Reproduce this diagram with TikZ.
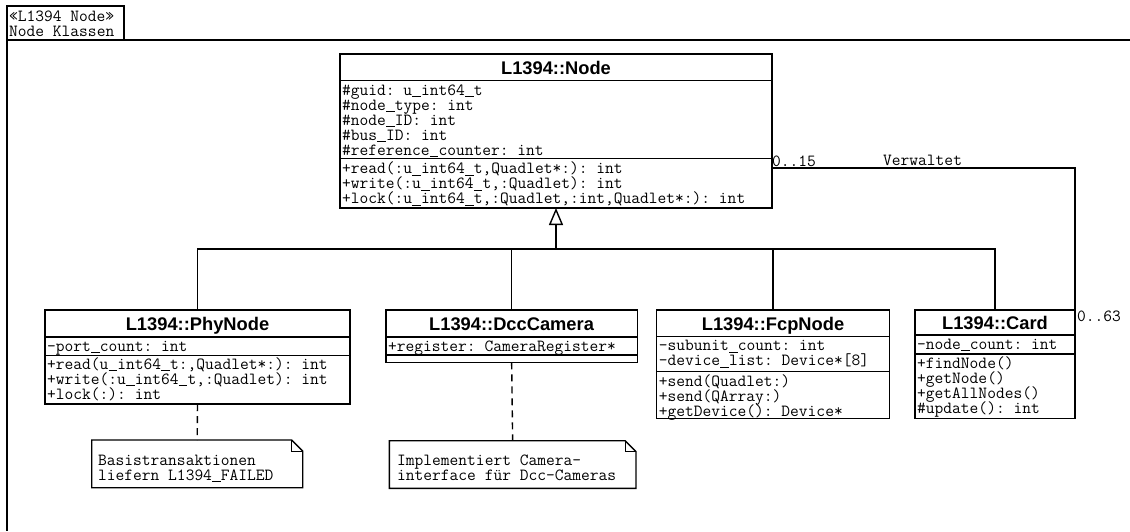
\documentclass[tikz,border=0pt]{standalone}
\usepackage{fontspec}
\setmainfont{Liberation Sans}
\usetikzlibrary{arrows.meta}

% thin underscore that stays clear of the next line
\newcommand\us{\makebox[0.525em][c]{\rule[-2pt]{0.5em}{0.7pt}}}

% one text line per node, 15pt apart: #1 name prefix, #2 x, #3 y of first line, #4 lines
\newcommand\compartmentlines[4]{%
  \foreach \t [count=\i] in {#4}
    \node[mono] (#1\i) at (#2,{#3+15*(\i-1)}) {\t};}

% horizontal compartment separator across a class box
\newcommand\compsep[2]{\draw[stroke] (#1.west |- 0,#2) -- (#1.east |- 0,#2);}

% dog-eared outline of a comment node
\newcommand\notesheet[1]{%
  \draw[stroke] (#1.north west) -- ([xshift=-11pt]#1.north east)
    -- ([yshift=-11pt]#1.north east) -- (#1.south east) -- (#1.south west) -- cycle;
  \draw[line width=0.8pt] ([xshift=-11pt]#1.north east) |- ([yshift=-11pt]#1.north east);}

\begin{document}
\frenchspacing
\begin{tikzpicture}[x=1pt,y=-1pt,
  stroke/.style={line width=1.4pt, black},
  classbox/.style={draw, line width=1.4pt, anchor=north west, inner sep=0pt, outer sep=0pt},
  notebox/.style={anchor=north west, inner sep=0pt, outer sep=0pt},
  mono/.style={font=\fontsize{17}{15}\selectfont\ttfamily, inner sep=0pt, anchor=west,
    text height=10pt, text depth=0pt},
  classtitle/.style={font=\fontsize{18.3}{20}\selectfont\bfseries, inner sep=0pt,
    text height=13.1pt, text depth=0pt},
  generalization/.style={stroke, -{Triangle[open, length=17pt, width=14pt, line width=1.4pt]}},
  notelink/.style={stroke, dash pattern=on 7pt off 5pt}]

\useasboundingbox[fill=white] (0,0) rectangle (1130,531);

% package frame with its tab
\draw[stroke] (124,40) -- (124,6) -- (7,6) -- (7,531);
\draw[stroke] (7,40) -- (1130,40);
\node[mono] (tab1) at (9,16) {«L1394 Node»};
\node[mono] (tab2) at (9,31) {Node Klassen};

% L1394::Node
\node[classbox, minimum width=432pt, minimum height=154pt] (node) at (340,54) {};
\node[classtitle] (node-title) at (556,67.5) {L1394::Node};
\compsep{node}{80.7}
\compsep{node}{158.3}
\compartmentlines{node-a}{342}{90}{{\#guid: u\us int64\us t},{\#node\us type: int},{\#node\us ID: int},
  {\#bus\us ID: int},{\#reference\us counter: int}}
\compartmentlines{node-m}{342}{168.3}{{+read(:u\us int64\us t,Quadlet*:): int},
  {+write(:u\us int64\us t,:Quadlet): int},{+lock(:u\us int64\us t,:Quadlet,:int,Quadlet*:): int}}

% L1394::PhyNode
\node[classbox, minimum width=305pt, minimum height=94pt] (phy) at (45,310) {};
\node[classtitle] (phy-title) at (197.5,323.5) {L1394::PhyNode};
\compsep{phy}{337}
\compsep{phy}{355.5}
\compartmentlines{phy-a}{47}{346}{{-port\us count: int}}
\compartmentlines{phy-m}{47}{364}{{+read(u\us int64\us t:,Quadlet*:): int},
  {+write(:u\us int64\us t,:Quadlet): int},{+lock(:): int}}

% L1394::DccCamera
\node[classbox, minimum width=251.3pt, minimum height=52.3pt] (dcc) at (386,310) {};
\node[classtitle] (dcc-title) at (511.6,323.5) {L1394::DccCamera};
\compsep{dcc}{337}
\compsep{dcc}{355}
\compartmentlines{dcc-a}{388}{346}{{+register: CameraRegister*}}

% L1394::FcpNode
\node[classbox, minimum width=232.6pt, minimum height=108.7pt] (fcp) at (656.7,310) {};
\node[classtitle] (fcp-title) at (773,323.5) {L1394::FcpNode};
\compsep{fcp}{336.7}
\compsep{fcp}{371.7}
\compartmentlines{fcp-a}{658.7}{345.5}{{-subunit\us count: int},{-device\us list: Device*[8]}}
\compartmentlines{fcp-m}{658.7}{381}{{+send(Quadlet:)},{+send(QArray:)},{+getDevice(): Device*}}

% L1394::Card
\node[classbox, minimum width=160pt, minimum height=108.3pt] (card) at (915,310) {};
\node[classtitle] (card-title) at (995,322.5) {L1394::Card};
\compsep{card}{335}
\compsep{card}{354}
\compartmentlines{card-a}{917}{344}{{-node\us count: int}}
\compartmentlines{card-m}{917}{363}{{+findNode()},{+getNode()},{+getAllNodes()},{\#update(): int}}

% comments
\node[notebox, minimum width=211pt, minimum height=47.7pt] (n1) at (91.7,440) {};
\notesheet{n1}
\compartmentlines{n1-t}{98}{460}{{Basistransaktionen},{liefern L1394\us FAILED}}
\node[notebox, minimum width=246.7pt, minimum height=47.6pt] (n2) at (389.3,440.7) {};
\notesheet{n2}
\compartmentlines{n2-t}{397}{460}{{Implementiert Camera-},{interface für Dcc-Cameras}}

% inheritance
\coordinate (bus) at (node.south |- 0,249);
\draw[generalization] (phy.north) |- (bus) -- (node.south);
\draw[stroke] (dcc.north) |- (bus);
\draw[stroke] (fcp.north) |- (bus);
\draw[stroke] (card.north) |- (bus);

% association Card -- Node
\draw[stroke] ([yshift=-37pt]node.east) -| (card.north east);
\node[mono] (mult-node) at (772,161) {0..15};
\node[mono] (assoc-name) at (883,160) {Verwaltet};
\node[mono] (mult-card) at (1077,316) {0..63};

% comment anchors
\draw[notelink] (phy.south) -- (n1.north);
\draw[notelink] (dcc.south) -- (n2.north);
\end{tikzpicture}
\end{document}
